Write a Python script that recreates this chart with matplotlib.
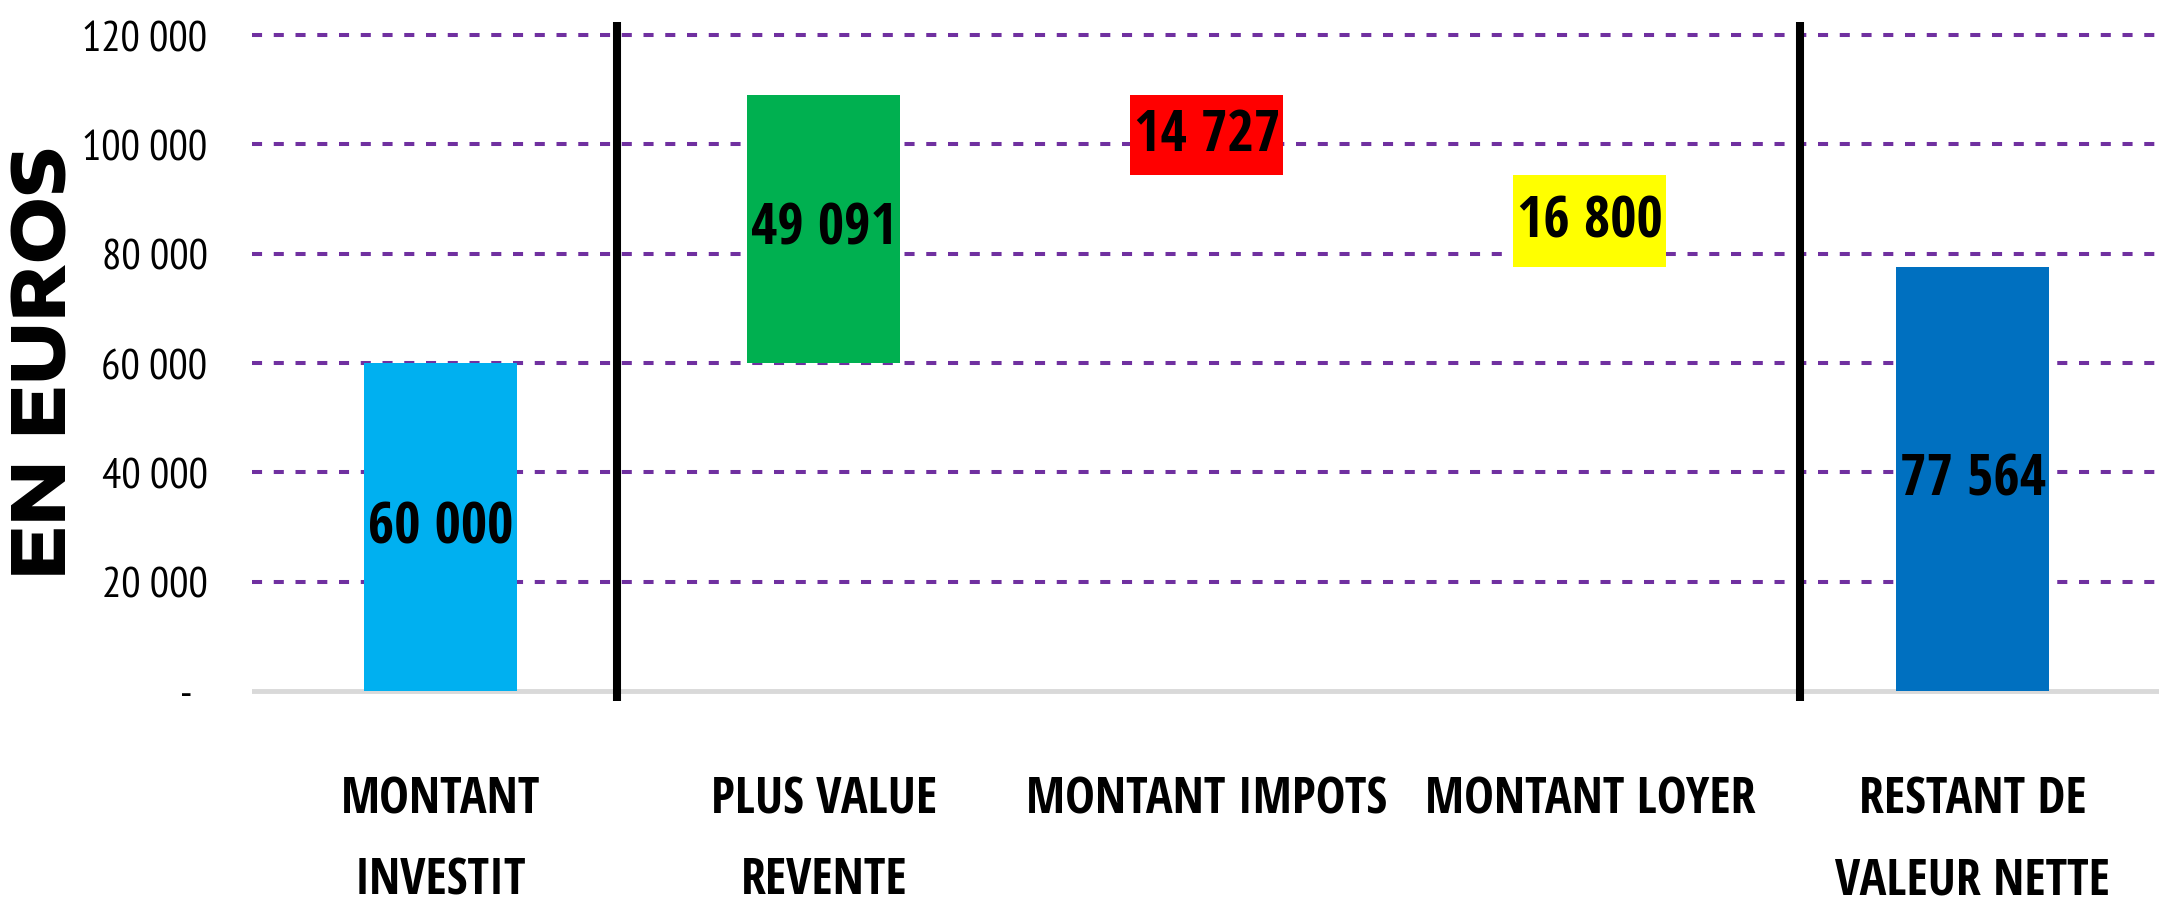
import matplotlib.pyplot as plt
import numpy as np

# data
categories = ["MONTANT\nINVESTIT", "PLUS VALUE\nREVENTE", "MONTANT IMPOTS",
              "MONTANT LOYER", "RESTANT DE\nVALEUR NETTE"]
amounts = [60000, 49091, -14727, -16800, 77564]
is_total = [True, False, False, False, True]
colors = ["#00B0F0", "#00B050", "#FF0000", "#FFFF00", "#0070C0"]
yticks = [0, 20000, 40000, 60000, 80000, 100000, 120000]

bold_font = ["Open Sans Condensed", "DejaVu Sans"]
tick_font = ["PT Sans Narrow", "DejaVu Sans"]
title_font = ["Encode Sans Expanded", "DejaVu Sans"]

# waterfall bottoms / heights
bottoms = []
heights = []
running = 0
for amt, tot in zip(amounts, is_total):
    if tot:
        bottoms.append(0)
        heights.append(amt)
        running = amt
    else:
        new = running + amt
        bottoms.append(min(running, new))
        heights.append(abs(amt))
        running = new

fig = plt.figure(figsize=(21.59, 9.03), dpi=100)
ax = fig.add_axes([0.1167, 0.2226, 0.8833, 0.7519])

x = np.arange(len(categories))
ax.set_xlim(-0.493, 4.486)
ax.set_ylim(-1830, 122400)

# gridlines
for t in yticks[1:]:
    ax.axhline(t, color="#7030A0", lw=2.9, ls=(0, (2.5, 2.9)), zorder=1)
ax.axhline(0, color="#D9D9D9", lw=3.5, zorder=1)

ax.bar(x, heights, bottom=bottoms, width=0.4, color=colors, zorder=2)

for xi, b, h, amt in zip(x, bottoms, heights, amounts):
    label = f"{abs(amt):,.0f}".replace(",", " ")
    ax.text(xi, b + h / 2, label, ha="center", va="center",
            fontsize=41, fontweight="bold", family=bold_font, zorder=3)

# separators
for xv in [0.46, 3.55]:
    ax.axvline(xv, color="black", lw=5.8, zorder=4)

ax.set_xticks(x)
ax.set_xticklabels(categories, fontsize=36, fontweight="bold", family=bold_font,
                   linespacing=1.8)
ax.set_yticks(yticks)
ax.set_yticklabels(["-  "] + [f"{t:,.0f}".replace(",", " ") for t in yticks[1:]],
                   fontsize=31, family=tick_font)
ax.tick_params(axis="x", length=0, pad=53)
ax.tick_params(axis="y", length=0, pad=32)

for s in ax.spines.values():
    s.set_visible(False)

fig.text(0.021, 0.5 * (0.2226 + 0.9745), "EN EUROS", rotation=90,
         ha="center", va="center", fontsize=53, fontweight=800,
         family=title_font)

fig.savefig("out.png", dpi=100)
